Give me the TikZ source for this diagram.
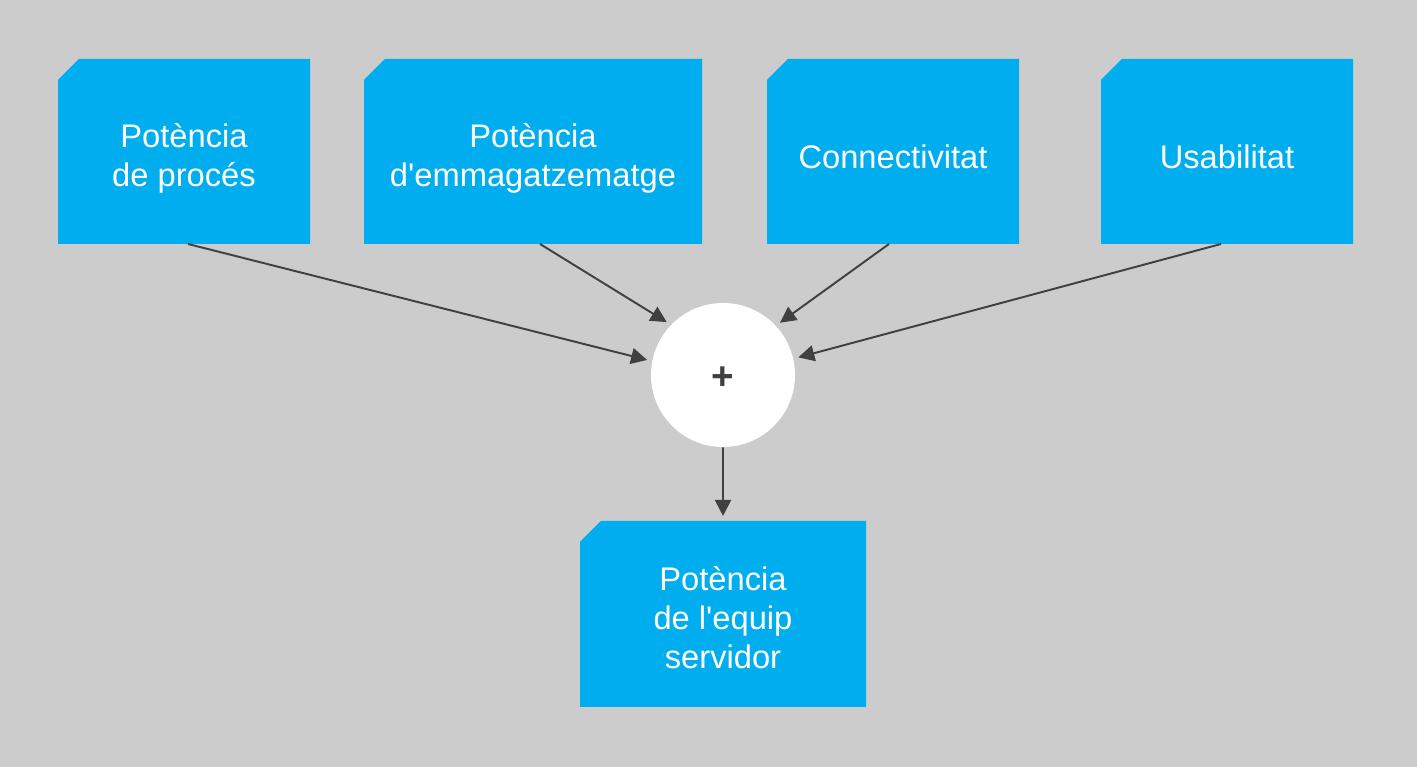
\documentclass[tikz,border=0pt]{standalone}
\usepackage{fontspec}
\setmainfont{Liberation Sans}[Ligatures=TeXOff]
\usetikzlibrary{shapes.misc,arrows.meta}
\definecolor{fonsgris}{HTML}{CCCCCC}
\definecolor{blaucaixa}{HTML}{00ADEE}
\definecolor{fletxa}{HTML}{404040}
\newcommand\altura[1]{\rule{0pt}{#1}}
\begin{document}
\begin{tikzpicture}[
  caixa/.style={chamfered rectangle,chamfered rectangle corners=north west,
    chamfered rectangle xsep=0.21cm,chamfered rectangle ysep=0.21cm,
    fill=blaucaixa,draw=none,inner sep=0pt,outer sep=0pt,
    minimum height=3.7cm,text=white,align=center,
    font=\fontsize{18.6}{22.3}\selectfont},
  suma/.style={circle,fill=white,minimum size=2.88cm,inner sep=0pt,
    text height=16.5pt,text depth=0pt,
    text=fletxa,font=\fontsize{22}{24}\selectfont\bfseries},
  enllac/.style={draw=fletxa,line width=1.1pt,shorten >=0.1cm,
    -{Triangle[length=0.32cm,width=0.32cm]}}]
\fill[fonsgris](0,0)rectangle(28.34,15.34);
\useasboundingbox(0,0)rectangle(28.34,15.34);
%
\node[caixa,minimum width=5.04cm](proces)at(3.68,12.31){\altura{0.74cm}Potència\\de procés};
\node[caixa,minimum width=6.76cm](emmag)at(10.66,12.31){\altura{0.74cm}Potència\\d'emmagatzematge};
\node[caixa,minimum width=5.04cm](connect)at(17.86,12.31){\altura{0.7cm}Connectivitat};
\node[caixa,minimum width=5.04cm](usab)at(24.54,12.31){\altura{0.7cm}Usabilitat};
\node[suma](mes)at(14.46,7.84){+};
\node[caixa,minimum width=5.72cm,minimum height=3.72cm](equip)at(14.46,3.06){\altura{0.62cm}Potència\\de l'equip\\servidor};
%
\draw[enllac]([xshift=0.08cm]proces.south)--(mes.169);
\draw[enllac]([xshift=0.14cm]emmag.south)--(mes.136);
\draw[enllac]([xshift=-0.08cm]connect.south)--(mes.43);
\draw[enllac]([xshift=-0.12cm]usab.south)--(mes.13);
\draw[enllac](mes)--(equip);
\end{tikzpicture}
\end{document}
